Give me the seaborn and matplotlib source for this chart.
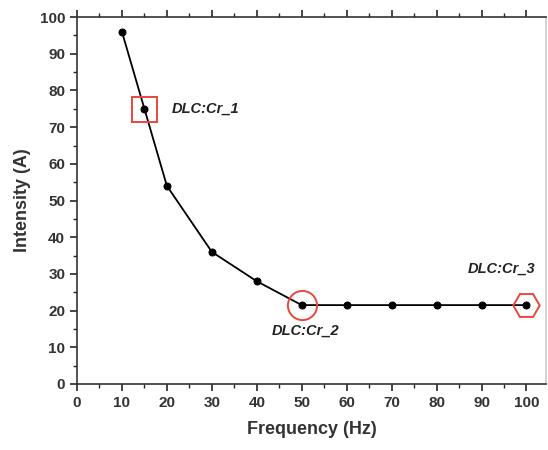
import matplotlib
matplotlib.use("Agg")
import matplotlib.pyplot as plt
import seaborn as sns
import pandas as pd
from matplotlib.ticker import MultipleLocator

freq = [10, 15, 20, 30, 40, 50, 60, 70, 80, 90, 100]
intensity = [96, 75, 54, 36, 28, 21.5, 21.5, 21.5, 21.5, 21.5, 21.5]
sample_freq = [15, 50, 100]
sample_int = [75, 21.5, 21.5]
sample_labels = ["DLC:Cr_1", "DLC:Cr_2", "DLC:Cr_3"]
sample_markers = ["s", "o", "H"]
sample_sizes = [18, 21, 19]

sns.set_style("ticks")
plt.rcParams['font.family'] = ['Liberation Sans', 'DejaVu Sans']
plt.rcParams['font.weight'] = 'bold'

df = pd.DataFrame({"Frequency": freq, "Intensity": intensity})

fig = plt.figure(figsize=(5.48, 4.5), dpi=100)
ax = fig.add_axes([0.1405, 0.1467, 0.8555, 0.8153])

sns.lineplot(data=df, x="Frequency", y="Intensity", ax=ax, color="black",
             linewidth=1.3, marker="o", markersize=5, markeredgecolor="black")

for fx, fy, m, ms in zip(sample_freq, sample_int, sample_markers, sample_sizes):
    ax.plot(fx, fy, marker=m, markersize=ms, markerfacecolor="none",
            markeredgecolor="#e8473b", markeredgewidth=1.4, linestyle="none")

txt_kw = dict(fontsize=10.5, style="italic", fontweight="bold",
              color="#222222", va="center", ha="left")
ax.text(21, 75, sample_labels[0], **txt_kw)
ax.text(43.3, 14.4, sample_labels[1], **txt_kw)
ax.text(87, 31.5, sample_labels[2], **txt_kw)

ax.set_xlim(0, 104.3)
ax.set_ylim(0, 100)
ax.xaxis.set_major_locator(MultipleLocator(10))
ax.xaxis.set_minor_locator(MultipleLocator(5))
ax.yaxis.set_major_locator(MultipleLocator(10))
ax.yaxis.set_minor_locator(MultipleLocator(5))
ax.tick_params(axis="both", which="major", length=5, width=1.2, labelsize=11,
               direction="out", top=True, right=False)
ax.tick_params(axis="both", which="minor", length=3, width=1, direction="out",
               top=True, right=False)
for lab in ax.get_xticklabels() + ax.get_yticklabels():
    lab.set_fontweight("bold")
    lab.set_color("#333333")

for s in ax.spines.values():
    s.set_visible(True)
    s.set_linewidth(1.2)
    s.set_color("#333333")
ax.spines["right"].set_color("#cccccc")

ax.set_xlabel("Frequency (Hz)", fontsize=13, fontweight="bold", color="#333333", labelpad=8)
ax.set_ylabel("Intensity (A)", fontsize=13, fontweight="bold", color="#333333", labelpad=6)

fig.savefig("out.png", dpi=100)
